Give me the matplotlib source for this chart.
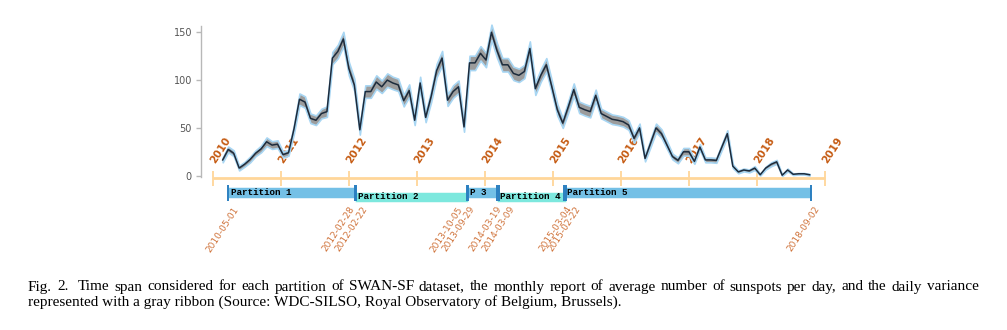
import numpy as np
import pandas as pd
import matplotlib
matplotlib.use('Agg')
import matplotlib.pyplot as plt
from matplotlib.transforms import offset_copy

# monthly mean number of sunspots per day, Jan 2010 .. Dec 2018
sunspots = [
    16.5, 27.5, 23.5, 8, 12, 17, 23.5, 28, 35.5, 32, 33, 22,          # 2010
    24, 49, 80, 77, 60, 58, 65, 67, 123, 130, 143, 112,               # 2011
    95, 48, 88, 88, 98, 93, 100, 97, 95, 78.5, 89, 58,                # 2012
    97, 61, 83, 110, 123, 79, 88, 93, 51, 118, 118, 128,              # 2013
    121, 150, 131, 116, 116, 107, 105, 109, 133, 91, 105, 116,        # 2014
    93, 69, 55, 72, 90, 71.5, 69, 67, 84, 65, 62, 59,                 # 2015
    58, 56.5, 53, 39, 50, 18, 34, 50, 44, 32, 20, 16,                 # 2016
    25, 25, 15, 30, 16.5, 16.5, 16, 30, 44, 10, 4, 6,                 # 2017
    5, 8, 1, 8, 12, 14.5, 0.5, 6, 1.5, 2, 2, 1,                       # 2018
]
# half width of the gray ribbon (daily variance)
spread = [
    2.5, 3.0, 3.0, 2.5, 2.5, 3.0, 3.0, 3.5, 4.5, 4.0, 4.0, 3.0,
    3.0, 4.5, 6.0, 6.0, 5.0, 5.0, 5.0, 5.5, 6.5, 7.0, 7.5, 7.0,
    6.5, 5.0, 6.5, 6.5, 7.0, 6.5, 7.0, 6.5, 6.5, 6.0, 6.5, 5.0,
    6.5, 5.0, 6.0, 7.0, 7.5, 6.0, 6.5, 6.5, 5.0, 7.5, 7.5, 7.5,
    7.5, 8.0, 7.5, 7.0, 7.0, 7.0, 7.0, 7.0, 7.5, 6.5, 6.5, 7.0,
    6.5, 6.0, 5.0, 6.0, 6.5, 6.0, 6.0, 6.0, 6.0, 5.0, 5.0, 5.0,
    5.0, 5.0, 5.0, 4.5, 4.5, 3.0, 4.0, 4.5, 4.5, 4.0, 3.0, 3.0,
    4.0, 4.0, 2.5, 3.0, 2.5, 2.5, 2.5, 3.0, 3.5, 2.0, 1.5, 1.5,
    1.5, 2.0, 0.8, 1.5, 2.0, 2.0, 0.8, 1.5, 0.8, 0.8, 0.8, 0.8,
]

years = list(range(2010, 2020))

part_names = ['Partition 1', 'Partition 2', 'P 3', 'Partition 4', 'Partition 5']
part_start = ['2010-05-01', '2012-02-22', '2013-09-29', '2014-03-09', '2015-02-22']
part_end = ['2012-02-28', '2013-10-05', '2014-03-19', '2015-03-04', '2018-09-02']

# dates written under the partition bars, left to right
date_labels = ['2010-05-01', '2012-02-28', '2012-02-22', '2013-10-05', '2013-09-29',
               '2014-03-19', '2014-03-09', '2015-03-04', '2015-02-22', '2018-09-02']

caption1 = ("Fig. 2.  Time span considered for each partition of SWAN-SF dataset, the monthly "
            "report of average number of sunspots per day, and the daily variance")
caption2 = ("represented with a gray ribbon (Source: WDC-SILSO, Royal Observatory of "
            "Belgium, Brussels).")


def decimal_year(s):
    d = pd.Timestamp(s)
    start = pd.Timestamp(year=d.year, month=1, day=1)
    return d.year + (d - start).days / 365.25


# --- layout (pixels of the 1007x330 figure) ---
W, H = 1007, 330
ax_left, ax_right, ax_top, ax_bottom = 201, 840, 15, 262
y0_px, px_per_unit = 175.7, 0.956          # sunspot scale
tick_x0, tick_px_per_year = 213.0, 68.0    # year timeline
line_x0, line_px_per_month = 222.7, 5.485  # monthly series panel
bar_x0, bar_px_per_year = 205.25, 69.83    # partition bars

orange_line = '#ffd699'
year_color = '#c55a11'
date_color = '#d0743c'
blue = '#74c0e6'
cyan = '#7de8de'
marker_blue = '#2b7fc0'

fig = plt.figure(figsize=(W / 100, H / 100), dpi=100)
ax = fig.add_axes([ax_left / W, (H - ax_bottom) / H,
                   (ax_right - ax_left) / W, (ax_bottom - ax_top) / H])
ax.patch.set_visible(False)

ax.set_xlim(2010 + (ax_left - tick_x0) / tick_px_per_year,
            2010 + (ax_right - tick_x0) / tick_px_per_year)
ax.set_ylim(-(ax_bottom - y0_px) / px_per_unit, (y0_px - ax_top) / px_per_unit)

for side in ['top', 'right', 'bottom']:
    ax.spines[side].set_visible(False)
ax.spines['left'].set_color('#b8b8b8')
ax.spines['left'].set_linewidth(1.0)
ax.spines['left'].set_bounds(-1, 157)
ax.set_xticks([])
ax.set_yticks([0, 50, 100, 150])
ax.tick_params(axis='y', colors='#b8b8b8', labelcolor='#555555', labelsize=7,
               length=3.5, width=1.0, pad=3)

# timeline with one tick per year
tl_y = -2.7
ax.plot([years[0], years[-1]], [tl_y, tl_y], color=orange_line, lw=2.0,
        solid_capstyle='butt', zorder=1)
ax.vlines(years, tl_y - 8, tl_y + 7.5, color=orange_line, lw=1.3, zorder=1)
for yr in years:
    ax.text(yr, 14, str(yr), rotation=57, rotation_mode='anchor', ha='left', va='center',
            fontsize=7.5, fontweight='bold', color=year_color, zorder=2)

# monthly series with its ribbon
axl = ax.twiny()
axl.set_xlim((ax_left - line_x0) / line_px_per_month, (ax_right - line_x0) / line_px_per_month)
axl.axis('off')
months = np.arange(len(sunspots))
vals = np.array(sunspots)
sd = np.array(spread)
axl.fill_between(months, vals - sd, vals + sd, facecolor='#9c9c9c', edgecolor='#a8d6f3',
                 linewidth=1.2, zorder=2)
axl.plot(months, vals, color='#1c2b3c', lw=1.1, zorder=3)

# partition bars
axb = ax.twiny()
axb.set_xlim(2010 + (ax_left - bar_x0) / bar_px_per_year,
             2010 + (ax_right - bar_x0) / bar_px_per_year)
axb.axis('off')
starts = [decimal_year(s) for s in part_start]
ends = [decimal_year(s) for s in part_end]
for k, (name, s, e) in enumerate(zip(part_names, starts, ends)):
    yc = -17.8 if k % 2 == 0 else -22.2
    axb.barh(yc, e - s, left=s, height=11, color=blue if k % 2 == 0 else cyan,
             edgecolor='white', linewidth=0.4, zorder=2)
    axb.text(s, yc, name, ha='left', va='center', fontsize=6.7, fontweight='bold',
             family='Liberation Mono', color='black', zorder=4,
             transform=offset_copy(axb.transData, fig=fig, x=3, y=0, units='dots'))
axb.vlines(starts + ends, -9.8, -26.5, color=marker_blue, lw=1.4, zorder=3)

nudge = [5, -7, 7, -11, 2, -3, 12, 0, 10, 3]
for lab, dx in zip(date_labels, nudge):
    axb.text(decimal_year(lab), -30.5, lab, rotation=57, rotation_mode='anchor',
             ha='right', va='top', fontsize=6.5, color=date_color,
             transform=offset_copy(axb.transData, fig=fig, x=dx, y=0, units='dots'))

# caption, first line justified
cap_kw = dict(fontsize=11, family='Liberation Serif', color='black', va='baseline')
fig.canvas.draw()
renderer = fig.canvas.get_renderer()
words = caption1.split(' ')
texts = [fig.text(0, (H - 290.5) / H, w, ha='left', **cap_kw) for w in words]
widths = [t.get_window_extent(renderer).width if w else 0 for t, w in zip(texts, words)]
x_start, x_end = 28, 979
gap = (x_end - x_start - sum(widths)) / (len(words) - 1)
x = x_start
for t, w in zip(texts, widths):
    t.set_x(x / W)
    x += w + gap
fig.text(x_start / W, (H - 305.5) / H, caption2, ha='left', **cap_kw)

fig.savefig('out.png', dpi=100)
